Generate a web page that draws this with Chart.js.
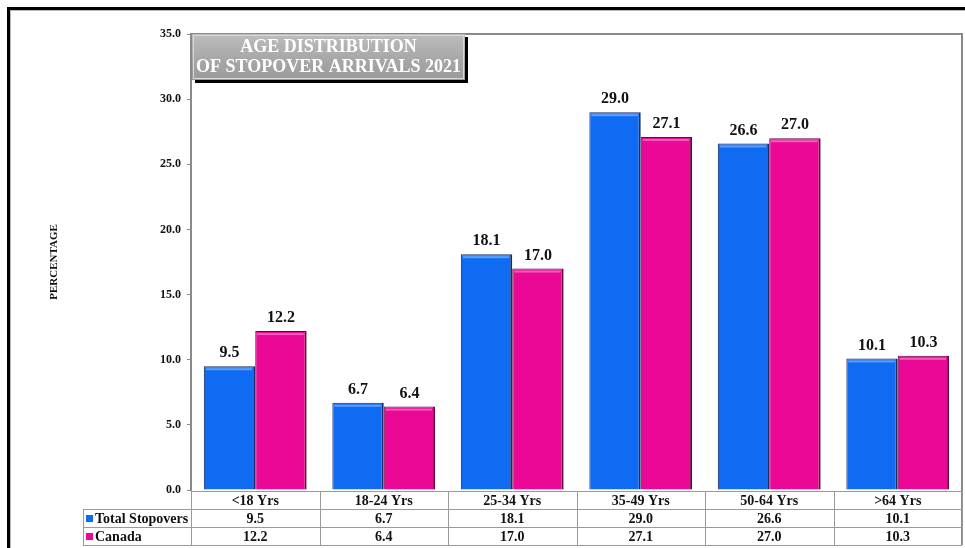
<!DOCTYPE html>
<html>
<head>
<meta charset="utf-8">
<script src="https://cdn.jsdelivr.net/npm/chart.js@4.4.1/dist/chart.umd.min.js"></script>
<style>
  html, body { margin: 0; padding: 0; background: #ffffff; }
  #wrap { position: relative; width: 965px; height: 548px; }
  canvas { display: block; }
</style>
</head>
<body>
<div id="wrap"><canvas id="c" width="965" height="548"></canvas></div>
<script>
const categories = ['<18 Yrs', '18-24 Yrs', '25-34 Yrs', '35-49 Yrs', '50-64 Yrs', '>64 Yrs'];
const totalStopovers = [9.5, 6.7, 18.1, 29.0, 26.6, 10.1];
const canada = [12.2, 6.4, 17.0, 27.1, 27.0, 10.3];
const seriesNames = ['Total Stopovers', 'Canada'];
const titleLines = ['AGE DISTRIBUTION', 'OF STOPOVER ARRIVALS 2021'];
const yAxisTitle = 'PERCENTAGE';

const SERIF = '"Liberation Serif", "Times New Roman", serif';
const BLUE = '#0f6cf2';
const PINK = '#ec0896';

const decorPlugin = {
  id: 'decor',
  beforeDraw(chart) {
    const ctx = chart.ctx;
    ctx.save();
    ctx.fillStyle = '#ffffff';
    ctx.fillRect(0, 0, chart.width, chart.height);
    // outer frame
    ctx.fillStyle = '#000000';
    ctx.fillRect(7, 7, chart.width - 7, 3);
    ctx.fillRect(7, 7, 3, chart.height - 7);
    ctx.fillStyle = '#b8b8b8';
    ctx.fillRect(10, 10, chart.width - 10, 1);
    ctx.fillRect(10, 10, 1, chart.height - 10);
    ctx.restore();
  },
  afterDatasetsDraw(chart) {
    const ctx = chart.ctx;
    const area = chart.chartArea;
    const x = chart.scales.x;
    ctx.save();
    // bar highlights + value labels
    chart.data.datasets.forEach((ds, di) => {
      const meta = chart.getDatasetMeta(di);
      meta.data.forEach((bar, i) => {
        const half = bar.width / 2;
        ctx.fillStyle = 'rgba(255,255,255,0.35)';
        ctx.fillRect(bar.x - half + 2, bar.y + 2, bar.width - 5, 2);
        ctx.fillStyle = '#111111';
        ctx.font = 'bold 16px ' + SERIF;
        ctx.textAlign = 'center';
        ctx.textBaseline = 'middle';
        ctx.fillText(ds.data[i].toFixed(1), bar.x, bar.y - 13);
      });
    });
    // plot frame top/right
    ctx.strokeStyle = '#8a8a8a';
    ctx.lineWidth = 2;
    ctx.beginPath();
    ctx.moveTo(area.left, area.top);
    ctx.lineTo(area.right, area.top);
    ctx.lineTo(area.right, area.bottom + 55);
    ctx.stroke();

    // data table
    const rowH = 18;
    const top = area.bottom + 1;
    const tableLeft = 83;
    const colW = (area.right - area.left) / categories.length;
    ctx.strokeStyle = '#9a9a9a';
    ctx.lineWidth = 1;
    ctx.beginPath();
    ctx.moveTo(area.left, top + 0.5); ctx.lineTo(area.right, top + 0.5);
    for (let r = 1; r <= 3; r++) {
      const yy = Math.round(top + r * rowH) + 0.5;
      ctx.moveTo(tableLeft, yy);
      ctx.lineTo(area.right, yy);
    }
    ctx.moveTo(tableLeft + 0.5, top + rowH); ctx.lineTo(tableLeft + 0.5, top + 3 * rowH);
    for (let i = 0; i <= categories.length; i++) {
      const xx = Math.round(area.left + i * colW) + 0.5;
      ctx.moveTo(xx, top); ctx.lineTo(xx, top + 3 * rowH);
    }
    ctx.stroke();

    ctx.fillStyle = '#111111';
    ctx.font = 'bold 14px ' + SERIF;
    ctx.textAlign = 'center';
    ctx.textBaseline = 'middle';
    categories.forEach((c, i) => {
      const cx = x.getPixelForValue(i);
      ctx.fillText(c, cx, top + rowH * 0.5 + 1);
      ctx.fillText(totalStopovers[i].toFixed(1), cx, top + rowH * 1.5 + 1);
      ctx.fillText(canada[i].toFixed(1), cx, top + rowH * 2.5 + 1);
    });
    // legend keys
    const keyCols = [BLUE, PINK];
    seriesNames.forEach((n, r) => {
      const cy = top + rowH * (r + 1.5) + 1;
      ctx.fillStyle = keyCols[r];
      ctx.fillRect(86, cy - 4, 7, 7);
      ctx.fillStyle = '#111111';
      ctx.textAlign = 'left';
      ctx.font = 'bold 14px ' + SERIF;
      ctx.fillText(n, 95, cy);
    });

    // title box
    const bx = area.left + 1, by = area.top, bw = 273, bh = 46;
    ctx.fillStyle = '#000000';
    ctx.fillRect(bx + 3, by + 3, bw, bh);
    const g = ctx.createLinearGradient(0, by, 0, by + bh);
    g.addColorStop(0, '#bdbdbd');
    g.addColorStop(0.5, '#a9a9a9');
    g.addColorStop(1, '#9a9a9a');
    ctx.fillStyle = g;
    ctx.fillRect(bx, by, bw, bh);
    ctx.strokeStyle = '#d8d8d8';
    ctx.lineWidth = 1;
    ctx.strokeRect(bx + 1.5, by + 1.5, bw - 3, bh - 3);
    ctx.fillStyle = '#ffffff';
    ctx.font = 'bold 18px ' + SERIF;
    ctx.textAlign = 'center';
    ctx.textBaseline = 'middle';
    ctx.fillText(titleLines[0], bx + bw / 2, by + 13);
    ctx.fillText(titleLines[1], bx + bw / 2, by + 33);
    ctx.restore();
  }
};

new Chart(document.getElementById('c'), {
  type: 'bar',
  data: {
    labels: categories,
    datasets: [
      {
        label: seriesNames[0],
        data: totalStopovers,
        backgroundColor: BLUE,
        borderColor: '#1a2b66',
        borderWidth: { top: 1, left: 1, right: 2, bottom: 0 },
        borderSkipped: false,
        categoryPercentage: 0.8,
        barPercentage: 1.0
      },
      {
        label: seriesNames[1],
        data: canada,
        backgroundColor: PINK,
        borderColor: '#5e0a3c',
        borderWidth: { top: 1, left: 1, right: 2, bottom: 0 },
        borderSkipped: false,
        categoryPercentage: 0.8,
        barPercentage: 1.0
      }
    ]
  },
  options: {
    responsive: false,
    animation: false,
    events: [],
    layout: { padding: { left: 0, right: 3, top: 34, bottom: 58 } },
    plugins: {
      legend: { display: false },
      tooltip: { enabled: false },
      title: { display: false }
    },
    scales: {
      x: {
        display: false,
        offset: true,
        grid: { display: false }
      },
      y: {
        min: 0,
        max: 35,
        afterFit(s) { s.width = 191; },
        ticks: {
          stepSize: 5,
          color: '#111111',
          font: { family: SERIF, size: 12, weight: 'bold' },
          padding: 6,
          callback: (v) => Number(v).toFixed(1)
        },
        grid: {
          drawOnChartArea: false,
          tickLength: 4,
          color: '#8a8a8a'
        },
        border: { display: true, color: '#8a8a8a', width: 2 },
        title: {
          display: true,
          text: yAxisTitle,
          color: '#111111',
          font: { family: SERIF, size: 11, weight: 'bold' },
          padding: { top: 48, bottom: 0 }
        }
      }
    }
  },
  plugins: [decorPlugin]
});
</script>
</body>
</html>
